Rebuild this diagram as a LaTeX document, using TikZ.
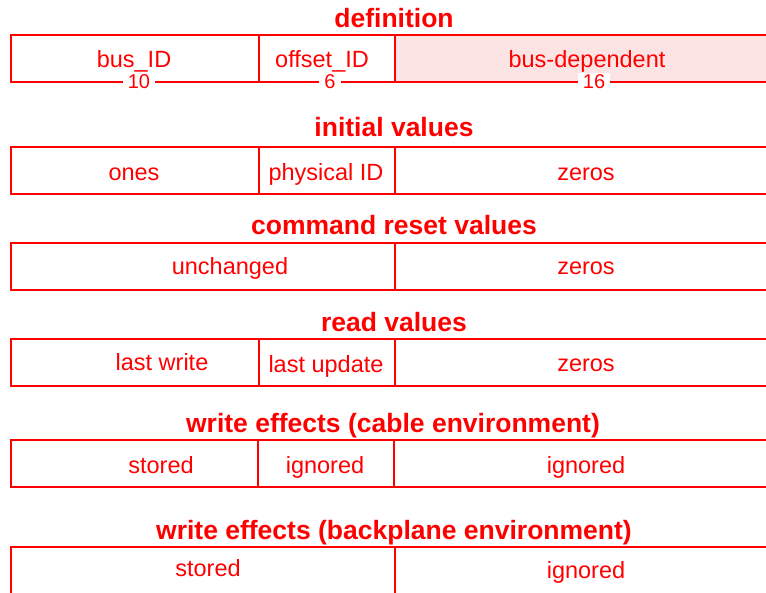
\documentclass[tikz,border=0pt]{standalone}
\usepackage{fontspec}
\setmainfont{Liberation Sans}
\usepackage{tikz}
\definecolor{RegRed}{HTML}{FF0000}
\definecolor{SoftPink}{HTML}{FDE4E4}

\begin{document}
\begin{tikzpicture}[x=1pt,y=-1pt,
    heading/.style={anchor=base,inner sep=0pt,text=RegRed,font=\fontsize{26.5}{30}\selectfont\bfseries},
    field/.style={anchor=base,inner sep=0pt,text=RegRed,font=\fontsize{23.5}{28}\selectfont},
    bitcount/.style={fill=white,text=RegRed,inner xsep=5pt,inner ysep=1.5pt,font=\fontsize{20}{22}\selectfont},
    frame/.style={draw=RegRed,line width=1.5pt}
]
\useasboundingbox (0,0) rectangle (766,592);
\clip (0,0) rectangle (766,592);

% definition
\node[heading] (hdef) at (394,27) {definition};
\fill[SoftPink] (395,35) rectangle (790,82);
\draw[frame] (11,35) rectangle (790,82);
\draw[frame] (259,35) -- (259,82) (395,35) -- (395,82);
\node[field] (busid) at (134,67) {bus\_ID};
\node[field] (offsetid) at (322,67) {offset\_ID};
\node[field] (busdep) at (587,67) {bus-dependent};
\node[bitcount] (nbus) at (139,82) {10};
\node[bitcount] (noff) at (330,82) {6};
\node[bitcount] (ndep) at (594,82) {16};

% initial values
\node[heading] (hinit) at (394,136) {initial values};
\draw[frame] (11,147) rectangle (790,194);
\draw[frame] (259,147) -- (259,194) (395,147) -- (395,194);
\node[field] (ones) at (134,180) {ones};
\node[field] (physid) at (326,180) {physical ID};
\node[field] (izeros) at (586,180) {zeros};

% command reset values
\node[heading] (hreset) at (394,234) {command reset values};
\draw[frame] (11,243) rectangle (790,290);
\draw[frame] (395,243) -- (395,290);
\node[field] (unch) at (230,274) {unchanged};
\node[field] (rzeros) at (586,274) {zeros};

% read values
\node[heading] (hread) at (394,331) {read values};
\draw[frame] (11,339) rectangle (790,386);
\draw[frame] (259,339) -- (259,386) (395,339) -- (395,386);
\node[field] (lwrite) at (162,370) {last write};
\node[field] (lupd) at (326,372) {last update};
\node[field] (dzeros) at (586,371) {zeros};

% write effects, cable
\node[heading] (hcable) at (393,432) {write effects (cable environment)};
\draw[frame] (11,440) rectangle (790,487);
\draw[frame] (258,440) -- (258,487) (394,440) -- (394,487);
\node[field] (cstored) at (161,473) {stored};
\node[field] (cign) at (325,473) {ignored};
\node[field] (cignr) at (586,473) {ignored};

% write effects, backplane
\node[heading] (hback) at (394,539) {write effects (backplane environment)};
\draw[frame] (11,547) rectangle (790,600);
\draw[frame] (395,547) -- (395,600);
\node[field] (bstored) at (208,576) {stored};
\node[field] (bign) at (586,578) {ignored};
\end{tikzpicture}
\end{document}
